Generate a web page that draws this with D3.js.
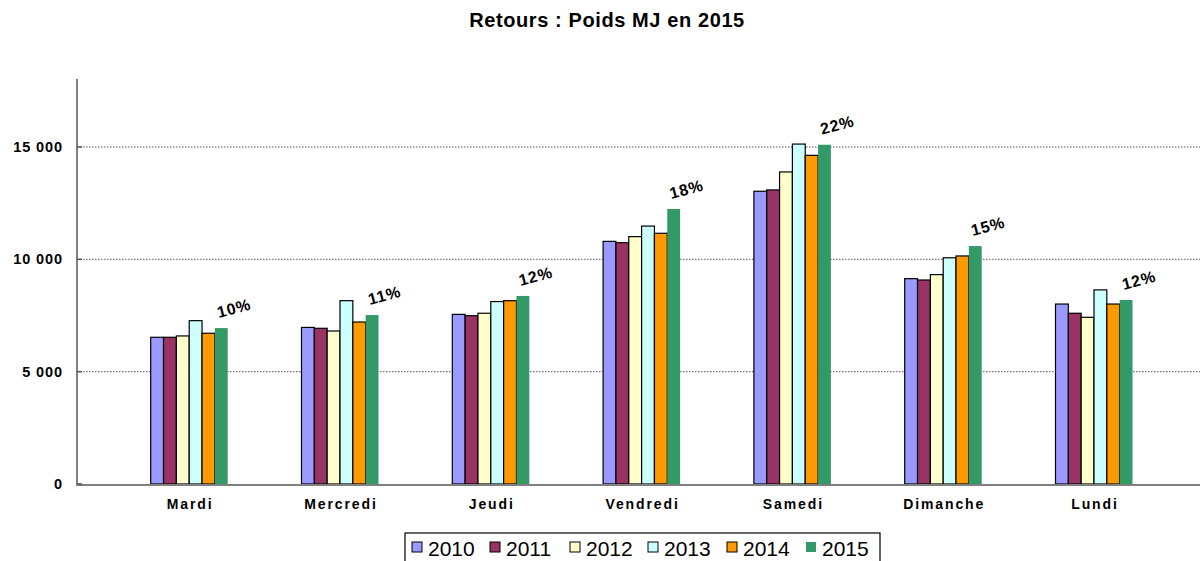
<!DOCTYPE html>
<html><head><meta charset="utf-8">
<script src="https://cdn.jsdelivr.net/npm/d3@7"></script>
<style>body{margin:0;background:#fff;}svg{display:block;font-family:"Liberation Sans",Arial,sans-serif;}</style>
</head><body><svg id="c" width="1200" height="561"></svg>
<script>
const categories = ["Mardi","Mercredi","Jeudi","Vendredi","Samedi","Dimanche","Lundi"];
const years = ["2010","2011","2012","2013","2014","2015"];
const v2010 = [6530, 6970, 7550, 10800, 13030, 9140, 8010];
const v2011 = [6530, 6930, 7490, 10740, 13090, 9080, 7600];
const v2012 = [6590, 6810, 7600, 11010, 13890, 9320, 7420];
const v2013 = [7270, 8160, 8120, 11480, 15130, 10070, 8640];
const v2014 = [6710, 7210, 8160, 11160, 14630, 10150, 8010];
const v2015 = [6940, 7520, 8370, 12240, 15100, 10590, 8190];
const pctLabels = ["10%","11%","12%","18%","22%","15%","12%"];
const yTicks = [0, 5000, 10000, 15000];
const colors = ["#9999FF","#993366","#FFFFCC","#CCFFFF","#FF9900","#339966"];
const series = [v2010, v2011, v2012, v2013, v2014, v2015];

const svg = d3.select("#c");
const axisX = 77, x0 = 114.6, step = 150.8;
const y = d3.scaleLinear().domain([0, 18000]).range([484, 79.6]);
const xb = d3.scaleBand().domain(categories).range([x0, x0 + step*7]);
const groupW = 77;
const xs = d3.scaleBand().domain(years).range([0, groupW]);

// title
svg.append("text").attr("x", 607).attr("y", 27).attr("text-anchor","middle")
  .attr("font-size", 20).attr("font-weight","bold").attr("letter-spacing", 0.6)
  .text("Retours : Poids MJ en 2015");

// gridlines
svg.append("g").selectAll("line").data(yTicks.filter(d=>d>0)).join("line")
  .attr("x1", axisX).attr("x2", 1200).attr("y1", d=>y(d)).attr("y2", d=>y(d))
  .attr("stroke","#555").attr("stroke-width",1).attr("stroke-dasharray","1.5,1.5");

// bars
const center = c => xb(c) + xb.bandwidth()/2 - 0.8;
series.forEach((vals, si) => {
  svg.append("g").selectAll("rect").data(vals).join("rect")
    .attr("x", (d,i)=> center(categories[i]) - groupW/2 + xs(years[si]))
    .attr("width", xs.bandwidth())
    .attr("y", d=>y(d)).attr("height", d=>y(0)-y(d))
    .attr("fill", colors[si])
    .attr("stroke", si===5 ? "none" : "#000").attr("stroke-width", 1.2);
});

// percent labels
svg.append("g").selectAll("text").data(pctLabels).join("text")
  .attr("transform", (d,i)=>{
    const cx = center(categories[i]) - groupW/2 + xs("2015") + 4;
    const cy = y(v2015[i]) - 10;
    return `translate(${cx},${cy}) rotate(-15)`;
  })
  .attr("font-size", 16).attr("font-weight","bold").attr("letter-spacing", 0.8).text(d=>d);

// axes lines
svg.append("line").attr("x1", axisX).attr("x2", axisX).attr("y1", 79).attr("y2", 485)
  .attr("stroke","#808080").attr("stroke-width",2);
svg.append("line").attr("x1", axisX-1).attr("x2", 1200).attr("y1", 485).attr("y2", 485)
  .attr("stroke","#808080").attr("stroke-width",2);
// y ticks
svg.append("g").selectAll("line").data(yTicks).join("line")
  .attr("x1", axisX).attr("x2", axisX+5).attr("y1", d=>y(d)).attr("y2", d=>y(d))
  .attr("stroke","#555").attr("stroke-width",1.5);
const fmt = d => d3.format(",")(d).replace(/,/g, " ");
svg.append("g").selectAll("text").data(yTicks).join("text")
  .attr("x", 63).attr("y", d=>y(d)+5).attr("text-anchor","end")
  .attr("font-size", 14.5).attr("font-weight","bold").attr("letter-spacing", 0.9).text(fmt);

// category labels
svg.append("g").selectAll("text").data(categories).join("text")
  .attr("x", c=>center(c)+1).attr("y", 509).attr("text-anchor","middle")
  .attr("font-size", 14).attr("font-weight","bold").attr("letter-spacing", 1.9).text(d=>d);

// legend
const lg = svg.append("g");
lg.append("rect").attr("x", 405).attr("y", 533).attr("width", 475).attr("height", 40)
  .attr("fill","#fff").attr("stroke","#000").attr("stroke-width",1.2);
const legX = [412, 490, 570, 648, 727, 806];
years.forEach((yr, i) => {
  lg.append("rect").attr("x", legX[i]).attr("y", 542).attr("width", 10).attr("height", 10)
    .attr("fill", colors[i]).attr("stroke", i===5 ? "none" : "#000").attr("stroke-width",1);
  lg.append("text").attr("x", legX[i]+16).attr("y", 556).attr("font-size", 21).text(yr);
});
</script></body></html>
